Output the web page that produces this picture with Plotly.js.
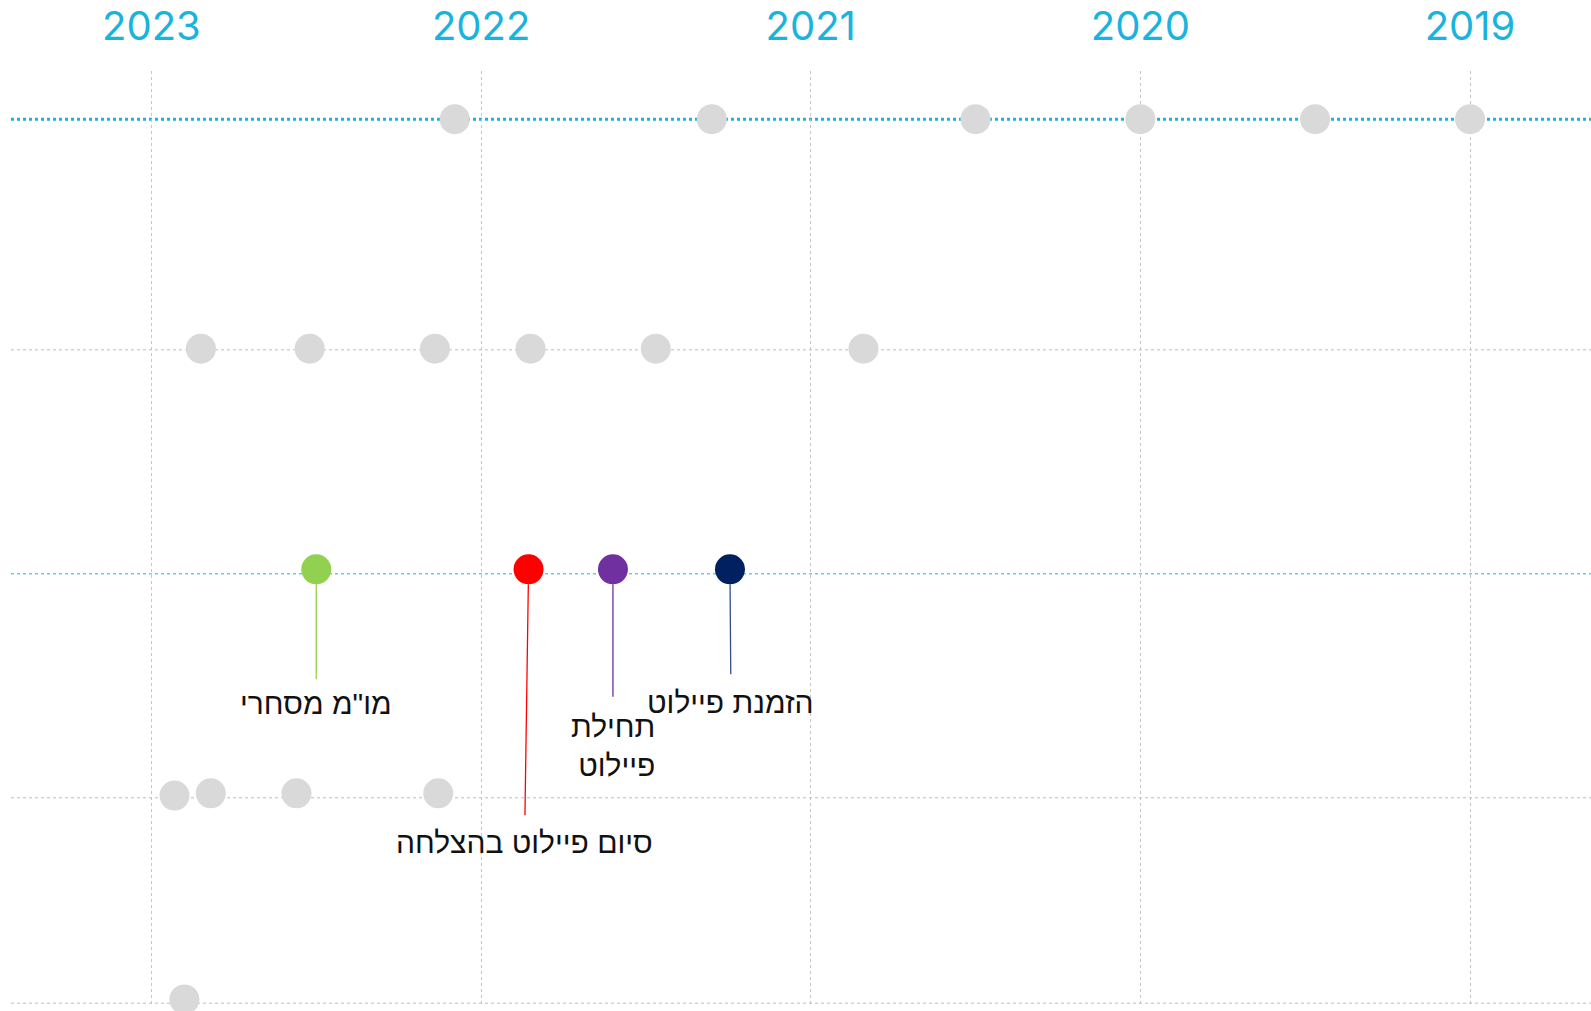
<!DOCTYPE html>
<html>
<head>
<meta charset="utf-8">
<script src="https://cdn.plot.ly/plotly-3.0.1.min.js"></script>
<style>html,body{margin:0;padding:0;background:#fff;overflow:hidden}#chart{width:1591px;height:1011px}</style>
</head>
<body>
<div id="chart"></div>
<script>
// Year axis ticks
const yearTicks = [2023, 2022, 2021, 2020, 2019];
const yearLabels = ["2023", "2022", "2021", "2020", "2019"];

// Gray event dots, one array per row (x = fractional year, y = row level)
const row1X = [2022.08, 2021.30, 2020.50, 2020.00, 2019.47, 2019.00];
const row1Y = [4.03, 4.03, 4.03, 4.03, 4.03, 4.03];
const row2X = [2022.85, 2022.52, 2022.14, 2021.85, 2021.47, 2020.84];
const row2Y = [3.005, 3.005, 3.005, 3.005, 3.005, 3.005];
const row4X = [2022.93, 2022.82, 2022.56, 2022.13];
const row4Y = [1.01, 1.02, 1.02, 1.02];
const row5X = [2022.90];
const row5Y = [0.10];

// Milestones (coloured dots with labels)
const mileX = [2022.50, 2021.856, 2021.60, 2021.245];
const mileY = [2.02, 2.02, 2.02, 2.02];
const mileLabels = ["מו\"מ מסחרי", "סיום פיילוט בהצלחה", "תחילת<br>פיילוט", "הזמנת פיילוט"];
const mileColors = ["#92d050", "#ff0000", "#7030a0", "#002060"];
const mileLineColors = ["#92d050", "#ff0000", "#7030a0", "#2f4f8f"];

// Horizontal row lines
const grayRowLines = [3.0, 1.0, 0.083];
const cyanThickLine = 4.03;
const cyanThinLine = 2.0;

const CYAN = "#1ab3de";
const GRAY = "#d9d9d9";

const dotTrace = (x, y) => ({
  type: "scatter", mode: "markers", x: x, y: y, cliponaxis: false,
  marker: {size: 30, color: GRAY}, hoverinfo: "skip", showlegend: false
});

const data = [
  dotTrace(row1X, row1Y),
  dotTrace(row2X, row2Y),
  dotTrace(row4X, row4Y),
  dotTrace(row5X, row5Y),
  {
    type: "scatter", mode: "markers", x: mileX, y: mileY, cliponaxis: false,
    marker: {size: 30, color: mileColors}, hoverinfo: "skip", showlegend: false
  }
];

// label offsets in pixels (style)
const offs = [
  {ax: 0, ay: 134, ss: 6, align: "center"},
  {ax: -4, ay: 273, ss: 9, align: "center"},
  {ax: 0, ay: 177, ss: 12, align: "right"},
  {ax: 1, ay: 133, ss: 10, align: "center"}
];

const annotations = mileX.map((x, i) => ({
  x: x, y: mileY[i], xref: "x", yref: "y",
  text: mileLabels[i], showarrow: true, arrowhead: 0, arrowwidth: 1.3,
  arrowcolor: mileLineColors[i], ax: offs[i].ax, ay: offs[i].ay,
  standoff: 15, startstandoff: offs[i].ss, align: offs[i].align,
  font: {family: "Arial, Liberation Sans, sans-serif", size: 30, color: "#111"}
}));

const shapes = [
  {type: "line", xref: "paper", x0: 0, x1: 1, yref: "y", y0: cyanThickLine, y1: cyanThickLine,
   line: {color: CYAN, width: 3, dash: "dot"}, layer: "below"},
  {type: "line", xref: "paper", x0: 0, x1: 1, yref: "y", y0: cyanThinLine, y1: cyanThinLine,
   line: {color: CYAN, width: 1, dash: "dot"}, layer: "below"}
].concat(grayRowLines.map(v => ({
  type: "line", xref: "paper", x0: 0, x1: 1, yref: "y", y0: v, y1: v,
  line: {color: "#bdbdbd", width: 1, dash: "dot"}, layer: "below"
})));

const layout = {
  width: 1591, height: 1011,
  margin: {l: 11, r: 0, t: 71, b: 4},
  paper_bgcolor: "#fff", plot_bgcolor: "#fff",
  showlegend: false,
  xaxis: {
    side: "top", range: [2023.426, 2018.633],
    tickvals: yearTicks, ticktext: yearLabels,
    tickfont: {family: "Inter, Roboto, sans-serif", size: 40, color: CYAN},
    ticks: "", ticklabelstandoff: 22,
    showgrid: true, gridcolor: "#c4c4c4", gridwidth: 1, griddash: "dot",
    zeroline: false, showline: false
  },
  yaxis: {
    range: [0.066, 4.245],
    showticklabels: false, showgrid: false, zeroline: false, showline: false, ticks: ""
  },
  shapes: shapes,
  annotations: annotations
};

Plotly.newPlot("chart", data, layout, {staticPlot: true});
</script>
</body>
</html>
